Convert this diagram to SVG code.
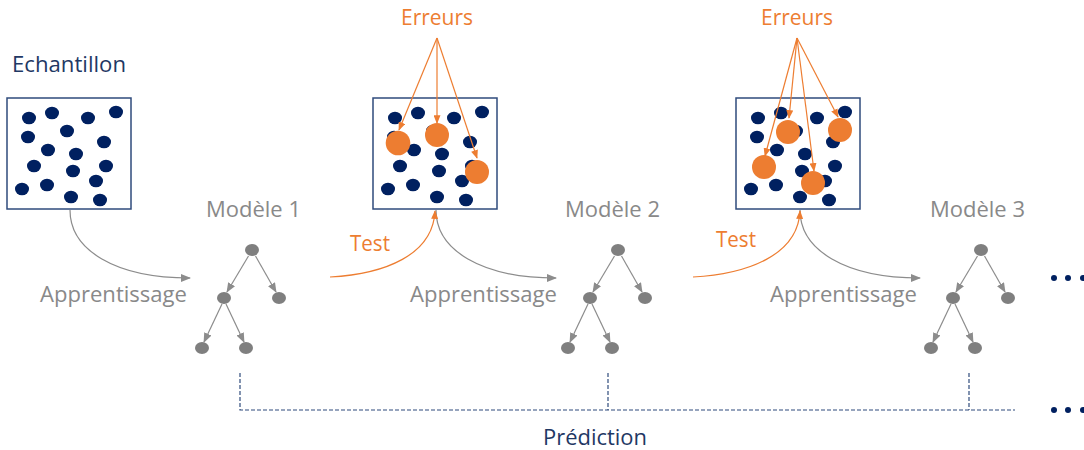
<svg xmlns="http://www.w3.org/2000/svg" xmlns:xlink="http://www.w3.org/1999/xlink" width="1084" height="450" viewBox="0 0 1084 450">
  <style>
    .lbl { font-family: "Open Sans", "Liberation Sans", sans-serif; font-size: 21px; }
    .navy { fill: #1f3864; }
    .gray { fill: #898989; }
    .orange { fill: #ed7d31; }
    .box { fill: #ffffff; stroke: #2f4b7c; stroke-width: 1.5; }
    .dot { fill: #002060; }
    .err { fill: #ed7d31; }
    .node { fill: #7f7f7f; }
    .edge { stroke: #8c8c8c; stroke-width: 1.2; fill: none; marker-end: url(#headGray); }
    .learn { stroke: #8c8c8c; stroke-width: 1.2; fill: none; marker-end: url(#headGray); }
    .test { stroke: #ed7d31; stroke-width: 1.2; fill: none; marker-end: url(#headOrange); }
    .errArrow { stroke: #ed7d31; stroke-width: 1.2; fill: none; marker-end: url(#headOrange); }
    .pred { stroke: #2f4b7c; stroke-width: 1.2; fill: none; stroke-dasharray: 4 2; }
  </style>
  <defs>
    <marker id="headGray" viewBox="0 0 10 8" refX="9" refY="4" markerWidth="10" markerHeight="8" markerUnits="userSpaceOnUse" orient="auto">
      <path d="M0,0 L10,4 L0,8 Z" fill="#8c8c8c"/>
    </marker>
    <marker id="headOrange" viewBox="0 0 10 8" refX="9" refY="4" markerWidth="9" markerHeight="7" markerUnits="userSpaceOnUse" orient="auto">
      <path d="M0,0 L10,4 L0,8 Z" fill="#ed7d31"/>
    </marker>
    <!-- sample points, relative to the top-left corner of a sample box -->
    <g id="samplePoints" class="dot">
      <ellipse cx="22" cy="20" rx="7" ry="6.3"/>
      <ellipse cx="45" cy="15" rx="7" ry="6.3"/>
      <ellipse cx="81" cy="20" rx="7" ry="6.3"/>
      <ellipse cx="109" cy="14" rx="7" ry="6.3"/>
      <ellipse cx="21" cy="39" rx="7" ry="6.3"/>
      <ellipse cx="60" cy="33" rx="7" ry="6.3"/>
      <ellipse cx="41" cy="52" rx="7" ry="6.3"/>
      <ellipse cx="69" cy="56" rx="7" ry="6.3"/>
      <ellipse cx="97" cy="44" rx="7" ry="6.3"/>
      <ellipse cx="27" cy="68" rx="7" ry="6.3"/>
      <ellipse cx="66" cy="73" rx="7" ry="6.3"/>
      <ellipse cx="99" cy="68" rx="7" ry="6.3"/>
      <ellipse cx="15" cy="91" rx="7" ry="6.3"/>
      <ellipse cx="40" cy="87" rx="7" ry="6.3"/>
      <ellipse cx="89" cy="83" rx="7" ry="6.3"/>
      <ellipse cx="64" cy="99" rx="7" ry="6.3"/>
      <ellipse cx="93" cy="102" rx="7" ry="6.3"/>
    </g>
    <!-- decision tree, relative to its root node -->
    <g id="tree">
      <line class="edge" x1="-3.5" y1="6" x2="-25" y2="42"/>
      <line class="edge" x1="3.5" y1="6" x2="24" y2="42"/>
      <line class="edge" x1="-30" y1="54" x2="-48" y2="92"/>
      <line class="edge" x1="-26" y1="54" x2="-8" y2="92"/>
      <ellipse class="node" cx="0" cy="0" rx="7" ry="6"/>
      <ellipse class="node" cx="-28" cy="48" rx="7" ry="6"/>
      <ellipse class="node" cx="27" cy="48" rx="7" ry="6"/>
      <ellipse class="node" cx="-50" cy="98" rx="7" ry="6"/>
      <ellipse class="node" cx="-6" cy="98" rx="7" ry="6"/>
    </g>
  </defs>

  <rect width="1084" height="450" fill="#ffffff"/>

  <!-- sample -->
  <g id="sample">
    <text class="lbl navy" x="12" y="72" font-size="22" textLength="114" lengthAdjust="spacingAndGlyphs">Echantillon</text>
    <rect class="box" x="7" y="98" width="124" height="111"/>
    <use xlink:href="#samplePoints" x="7" y="98"/>
  </g>

  <!-- test set 1 with its errors -->
  <g id="test1">
    <rect class="box" x="373" y="98" width="124" height="111"/>
    <use xlink:href="#samplePoints" x="373" y="98"/>
    <circle class="err" cx="398" cy="143" r="12.3"/>
    <circle class="err" cx="437" cy="135" r="12"/>
    <circle class="err" cx="477" cy="172" r="12"/>
  </g>
  <g id="errors1">
    <text class="lbl orange" x="437" y="25" font-size="22" text-anchor="middle" textLength="72" lengthAdjust="spacingAndGlyphs">Erreurs</text>
    <path class="errArrow" d="M437,38 L399,130"/>
    <path class="errArrow" d="M437,38 L437,123"/>
    <path class="errArrow" d="M437,38 L477,158"/>
  </g>

  <!-- test set 2 with its errors -->
  <g id="test2">
    <rect class="box" x="736" y="98" width="124" height="111"/>
    <use xlink:href="#samplePoints" x="736" y="98"/>
    <circle class="err" cx="788" cy="132" r="12"/>
    <circle class="err" cx="840" cy="130" r="12"/>
    <circle class="err" cx="764" cy="167" r="12"/>
    <circle class="err" cx="813" cy="183" r="12"/>
  </g>
  <g id="errors2">
    <text class="lbl orange" x="797" y="25" font-size="22" text-anchor="middle" textLength="72" lengthAdjust="spacingAndGlyphs">Erreurs</text>
    <path class="errArrow" d="M797,38 L789,118"/>
    <path class="errArrow" d="M797,38 L838,117"/>
    <path class="errArrow" d="M797,38 L765,156"/>
    <path class="errArrow" d="M797,38 L814,171"/>
  </g>

  <!-- models -->
  <g id="model1">
    <text class="lbl gray" x="253.5" y="217" text-anchor="middle" textLength="95" lengthAdjust="spacingAndGlyphs">Modèle 1</text>
    <use xlink:href="#tree" x="252" y="250"/>
  </g>
  <g id="model2">
    <text class="lbl gray" x="612.5" y="217" text-anchor="middle" textLength="95" lengthAdjust="spacingAndGlyphs">Modèle 2</text>
    <use xlink:href="#tree" x="618" y="250"/>
  </g>
  <g id="model3">
    <text class="lbl gray" x="977.5" y="217" text-anchor="middle" textLength="95" lengthAdjust="spacingAndGlyphs">Modèle 3</text>
    <use xlink:href="#tree" x="981" y="250"/>
  </g>

  <!-- continuation marks -->
  <g id="more" class="dot">
    <circle cx="1054" cy="278" r="3"/>
    <circle cx="1068" cy="278" r="3"/>
    <circle cx="1083" cy="278" r="3"/>
    <circle cx="1054" cy="410" r="3"/>
    <circle cx="1068" cy="410" r="3"/>
    <circle cx="1083" cy="410" r="3"/>
  </g>

  <!-- connectors -->
  <g id="connectors">
    <path class="learn" d="M70,210 C70,250 115,278 190,278"/>
    <path class="learn" d="M436,210 C436,250 481,278 556,278"/>
    <path class="learn" d="M800,210 C800,250 845,278 920,278"/>
    <path class="test" d="M330,277 C385,274 433,255 435,211"/>
    <path class="test" d="M693,277 C748,274 798,255 800,211"/>
    <path class="pred" d="M240,373 L240,410 L1015,410 M608,373 L608,410 M969,373 L969,410"/>
  </g>

  <!-- connector labels -->
  <g id="labels">
    <text class="lbl gray" x="40" y="302" textLength="147" lengthAdjust="spacingAndGlyphs">Apprentissage</text>
    <text class="lbl gray" x="410" y="302" textLength="147" lengthAdjust="spacingAndGlyphs">Apprentissage</text>
    <text class="lbl gray" x="770" y="302" textLength="147" lengthAdjust="spacingAndGlyphs">Apprentissage</text>
    <text class="lbl orange" x="350" y="251" textLength="40" lengthAdjust="spacingAndGlyphs">Test</text>
    <text class="lbl orange" x="716" y="247" textLength="40" lengthAdjust="spacingAndGlyphs">Test</text>
    <text class="lbl navy" x="543" y="445" textLength="104" lengthAdjust="spacingAndGlyphs">Prédiction</text>
  </g>
</svg>
